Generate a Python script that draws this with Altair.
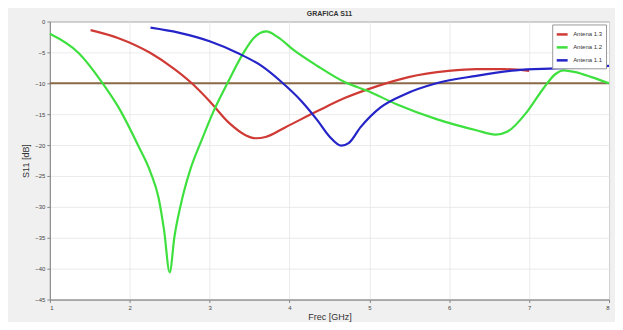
import altair as alt
import pandas as pd

# Antena 1.3 (red)
f13 = [1.51, 1.86, 2.26, 2.56, 2.76, 3.0, 3.25, 3.45, 3.58, 3.70, 3.95, 4.35, 4.69, 5.09, 5.49, 5.99, 6.34, 6.68, 7.0]
s13 = [-1.4, -2.7, -5.1, -7.7, -9.8, -12.9, -16.5, -18.4, -18.9, -18.7, -17.1, -14.5, -12.4, -10.5, -9.0, -8.0, -7.7, -7.7, -8.0]

# Antena 1.2 (green)
f12 = [1.0, 1.36, 1.65, 1.86, 2.11, 2.26, 2.36, 2.43, 2.50, 2.56, 2.66, 2.76, 2.90, 3.05, 3.23, 3.40, 3.55, 3.71, 3.85,
       4.05, 4.35, 4.69, 4.99, 5.34, 5.84, 6.34, 6.58, 6.73, 6.98, 7.18, 7.33, 7.43, 7.58, 7.78, 8.0]
s12 = [-2.0, -5.1, -9.8, -13.9, -20.2, -24.4, -28.5, -33.8, -40.6, -34.8, -28.5, -23.9, -19.2, -14.5, -9.8, -5.6, -2.7, -1.6, -2.5,
       -4.6, -7.2, -9.8, -11.3, -13.4, -15.8, -17.6, -18.3, -17.8, -14.5, -10.8, -8.5, -7.9, -8.2, -9.0, -10.0]

# Antena 1.1 (blue)
f11 = [2.26, 2.61, 3.0, 3.35, 3.65, 3.90, 4.15, 4.35, 4.50, 4.65, 4.74, 4.89, 5.14, 5.44, 5.84, 6.34, 6.83, 7.33, 8.0]
s11 = [-1.0, -1.8, -3.2, -5.1, -7.2, -9.8, -12.9, -16.0, -18.6, -20.1, -19.7, -17.1, -13.9, -11.8, -10.0, -8.8, -7.9, -7.6, -7.2]

series_names = ["Antena 1.3", "Antena 1.2", "Antena 1.1"]
series_colors = ["#d03a35", "#3ee03e", "#2424c8"]
threshold = [-10]
x_ticks = [1, 2, 3, 4, 5, 6, 7, 8]
y_ticks = [0, -5, -10, -15, -20, -25, -30, -35, -40, -45]

rows = []
for name, fs, ss in zip(series_names, [f13, f12, f11], [s13, s12, s11]):
    for i, (f, s) in enumerate(zip(fs, ss)):
        rows.append({"Frec": f, "S11": s, "Antena": name, "order": i})
df = pd.DataFrame(rows)
thr = pd.DataFrame({"S11": threshold})

xscale = alt.Scale(domain=[1, 8], nice=False, zero=False)
yscale = alt.Scale(domain=[-45, 0], nice=False, zero=False)
yaxis = alt.Axis(values=y_ticks, format="d", labelOverlap=False, tickCount=10)

rule = alt.Chart(thr).mark_rule(color="#8a6a48", strokeWidth=2.2).encode(
    y=alt.Y("S11:Q", scale=yscale, title="S11 [dB]", axis=yaxis)
)

lines = alt.Chart(df).mark_line(strokeWidth=2.2, interpolate="monotone").encode(
    x=alt.X("Frec:Q", scale=xscale, title="Frec [GHz]",
            axis=alt.Axis(values=x_ticks, format="d", labelOverlap=False)),
    y=alt.Y("S11:Q", scale=yscale, title="S11 [dB]", axis=yaxis),
    color=alt.Color("Antena:N", scale=alt.Scale(domain=series_names, range=series_colors),
                    sort=series_names,
                    legend=alt.Legend(title=None, orient="top-right", offset=3,
                                      symbolType="stroke", symbolStrokeWidth=2.5, symbolSize=120,
                                      labelFontSize=6, labelColor="#333",
                                      fillColor="white", strokeColor="#999",
                                      padding=3, rowPadding=1)),
    order="order:Q",
)

chart = alt.layer(rule, lines).properties(
    width=561, height=279,
    title=alt.TitleParams("GRAFICA S11", fontSize=7, fontWeight="bold", color="#333", offset=1),
    autosize=alt.AutoSizeParams(type="none"),
    padding={"left": 42, "top": 13, "right": 6, "bottom": 22},
    background="#f0f0f0",
).configure_view(
    fill="white", stroke="#888", strokeWidth=1
).configure_axis(
    grid=True, gridColor="#e6e6e6", gridWidth=0.8,
    domainColor="#888", tickColor="#888", tickSize=3,
    labelFontSize=6, labelColor="#444", labelPadding=2, labelOverlap=False,
    titleFontSize=9, titleFontWeight="normal", titleColor="#333",
).configure_axisX(titlePadding=2).configure_axisY(titlePadding=4)

chart.save("out.html", embed_options={"renderer": "svg", "actions": False})
